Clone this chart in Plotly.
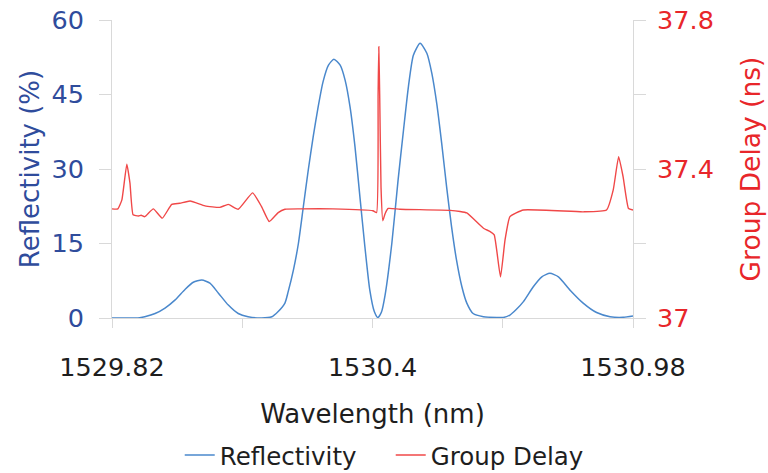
import plotly.graph_objects as go

# Reflectivity (%) vs wavelength (nm)
refl_wl = [1529.820, 1529.850, 1529.878, 1529.893, 1529.916, 1529.938, 1529.960, 1529.983,
           1530.001, 1530.020, 1530.038, 1530.057, 1530.079, 1530.101, 1530.123, 1530.153,
           1530.176, 1530.190, 1530.205, 1530.212, 1530.224, 1530.235, 1530.246, 1530.257,
           1530.268, 1530.279, 1530.290, 1530.302, 1530.314, 1530.328, 1530.339, 1530.350,
           1530.361, 1530.372, 1530.383, 1530.394, 1530.404, 1530.412, 1530.420, 1530.428,
           1530.443, 1530.457, 1530.469, 1530.480, 1530.491, 1530.506, 1530.521, 1530.532,
           1530.543, 1530.554, 1530.565, 1530.576, 1530.587, 1530.599, 1530.610, 1530.624,
           1530.647, 1530.677, 1530.691, 1530.706, 1530.720, 1530.736, 1530.758, 1530.777,
           1530.795, 1530.814, 1530.840, 1530.869, 1530.899, 1530.929, 1530.958, 1530.980]
refl_val = [0.0, 0.0, 0.0, 0.26, 0.9, 2.0, 3.6, 5.8,
            7.2, 7.65, 7.0, 5.0, 2.6, 0.9, 0.26, 0.0,
            0.26, 1.3, 3.0, 5.2, 9.7, 15.0, 22.4, 29.8,
            36.5, 42.5, 47.6, 50.9, 52.1, 50.9, 47.9, 42.5,
            34.5, 24.4, 14.4, 5.6, 1.3, 0.1, 1.2, 4.6,
            15.0, 27.8, 37.8, 46.6, 52.9, 55.3, 53.3, 49.3,
            43.2, 35.2, 26.4, 18.4, 11.7, 6.3, 3.0, 0.9,
            0.26, 0.1, 0.1, 0.6, 1.7, 3.3, 6.3, 8.3,
            9.0, 8.3, 5.6, 3.0, 1.1, 0.26, 0.14, 0.4]

# Group delay (ns) vs wavelength (nm)
gd_wl = [1529.820, 1529.833, 1529.842, 1529.853, 1529.860, 1529.867, 1529.879, 1529.885,
         1529.893, 1529.912, 1529.932, 1529.953, 1529.971, 1529.994, 1530.027, 1530.060,
         1530.079, 1530.101, 1530.133, 1530.153, 1530.170, 1530.190, 1530.205, 1530.239,
         1530.312, 1530.401, 1530.409, 1530.4125, 1530.414, 1530.416, 1530.419, 1530.423,
         1530.428, 1530.435, 1530.461, 1530.573, 1530.595, 1530.610, 1530.647, 1530.662, 1530.671,
         1530.685, 1530.695, 1530.706, 1530.736, 1530.869, 1530.921, 1530.936, 1530.948,
         1530.958, 1530.970, 1530.980]
gd_val = [37.293, 37.293, 37.317, 37.413, 37.362, 37.277, 37.274, 37.276,
          37.272, 37.293, 37.268, 37.305, 37.308, 37.314, 37.301, 37.297,
          37.305, 37.292, 37.336, 37.299, 37.259, 37.283, 37.292, 37.293,
          37.293, 37.288, 37.283, 37.600, 37.728, 37.600, 37.350, 37.261,
          37.280, 37.294, 37.292, 37.289, 37.286, 37.282, 37.241, 37.232, 37.223,
          37.110, 37.209, 37.272, 37.290, 37.285, 37.290, 37.344, 37.433,
          37.379, 37.294, 37.290]

x_ticks = [1529.82, 1530.11, 1530.4, 1530.69, 1530.98]
x_ticktext = ["1529.82", "", "1530.4", "", "1530.98"]
y1_ticks = [0, 15, 30, 45, 60]
y2_ticks = [37.0, 37.2, 37.4, 37.6, 37.8]
y2_ticktext = ["37", "", "37.4", "", "37.8"]

FONT = "DejaVu Sans, Liberation Sans, sans-serif"
BLUE_TXT = "#2f4c9c"
RED_TXT = "#e8262a"
DARK = "#1e1e1e"
AXIS = "#d9d9d9"

fig = go.Figure()
fig.add_trace(go.Scatter(x=refl_wl, y=refl_val, name="Reflectivity", mode="lines",
                         line=dict(color="#4a88cc", width=1.5, shape="spline", smoothing=0.6),
                         yaxis="y"))
fig.add_trace(go.Scatter(x=gd_wl, y=gd_val, name="Group Delay", mode="lines",
                         line=dict(color="#f04848", width=1.4, shape="spline", smoothing=0.4),
                         yaxis="y2"))

fig.update_layout(
    width=768, height=473,
    margin=dict(l=112, r=135, t=20, b=155, autoexpand=False),
    paper_bgcolor="white", plot_bgcolor="white",
    font=dict(family=FONT, size=24, color=DARK),
    showlegend=True,
    legend=dict(orientation="h", x=0.13, xanchor="left", y=-0.46, yanchor="middle",
                font=dict(size=24.5, color=DARK), entrywidth=166, entrywidthmode="pixels",
                traceorder="normal"),
    xaxis=dict(range=[1529.82, 1530.98], tickvals=x_ticks, ticktext=x_ticktext, automargin=False,
               showline=True, linecolor=AXIS, linewidth=1, showgrid=False, zeroline=False,
               ticks="outside", ticklen=9, tickcolor=AXIS, ticklabelstandoff=17,
               tickfont=dict(size=25.5, color=DARK),
               title=dict(text="Wavelength (nm)", font=dict(size=26, color=DARK), standoff=24)),
    yaxis=dict(range=[0, 60], tickvals=y1_ticks, automargin=False,
               showline=True, linecolor=AXIS, linewidth=1, showgrid=False, zeroline=False,
               ticks="outside", ticklen=12, tickcolor=AXIS, ticklabelstandoff=10,
               tickfont=dict(size=25.5, color=BLUE_TXT),
               title=dict(text="Reflectivity (%)", font=dict(size=26, color=BLUE_TXT), standoff=4)),
    yaxis2=dict(range=[37.0, 37.8], tickvals=y2_ticks, ticktext=y2_ticktext, automargin=False,
                overlaying="y", side="right",
                showline=True, linecolor=AXIS, linewidth=1, showgrid=False, zeroline=False,
                ticks="outside", ticklen=12, tickcolor=AXIS, ticklabelstandoff=6,
                tickfont=dict(size=25.5, color=RED_TXT),
                title=dict(text="Group Delay (ns)", font=dict(size=26.5, color=RED_TXT), standoff=28)),
)

fig.write_html("out.html")
